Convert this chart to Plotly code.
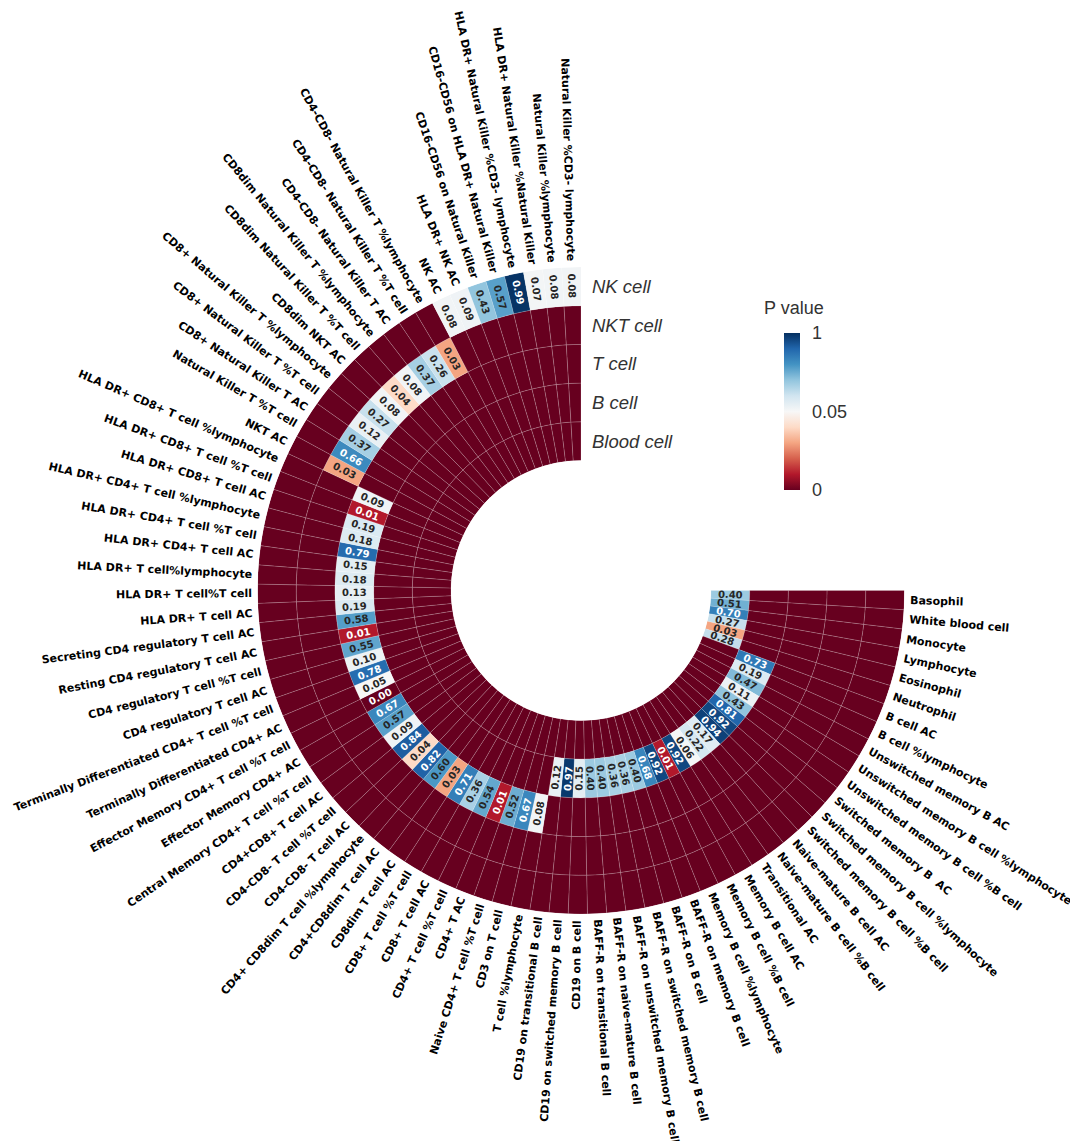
import math
import plotly.graph_objects as go

# ---------------- data ----------------
# rings from inner to outer
groups = ["Blood cell", "B cell", "T cell", "NKT cell", "NK cell"]

blood_features = ["Basophil", "White blood cell", "Monocyte", "Lymphocyte", "Eosinophil", "Neutrophil"]
blood_p = [0.40, 0.51, 0.70, 0.27, 0.03, 0.28]

b_features = [
    "B cell AC", "B cell %lymphocyte", "Unswitched memory B AC",
    "Unswitched memory B cell %lymphocyte", "Unswitched memory B cell %B cell",
    "Switched memory B  AC", "Switched memory B cell %lymphocyte", "Switched memory B cell %B cell",
    "Naive-mature B cell AC", "Naive-mature B cell %B cell", "Transitional AC",
    "Memory B cell AC", "Memory B cell %B cell", "Memory B cell %lymphocyte",
    "BAFF-R on memory B cell", "BAFF-R on B cell", "BAFF-R on switched memory B cell",
    "BAFF-R on unswitched memory B cell", "BAFF-R on naive-mature B cell",
    "BAFF-R on transitional B cell", "CD19 on B cell", "CD19 on switched memory B cell",
    "CD19 on transitional B cell",
]
b_p = [0.73, 0.19, 0.47, 0.11, 0.43, 0.81, 0.92, 0.94, 0.17, 0.22, 0.06, 0.92,
       0.01, 0.92, 0.68, 0.40, 0.36, 0.36, 0.40, 0.40, 0.15, 0.97, 0.12]

t_features = [
    "T cell %lymphocyte", "CD3 on T cell", "Naive CD4+ T cell %T cell", "CD4+ T AC",
    "CD4+ T cell %T cell", "CD8+ T cell AC", "CD8+ T cell %T cell", "CD8dim T cell AC",
    "CD4+CD8dim T cell AC", "CD4+ CD8dim T cell %lymphocyte", "CD4-CD8- T cell AC",
    "CD4-CD8- T cell %T cell", "CD4+CD8+ T cell AC", "Central Memory CD4+ T cell %T cell",
    "Effector Memory CD4+ AC", "Effector Memory CD4+ T cell %T cell",
    "Terminally Differentiated CD4+ AC", "Terminally Differentiated CD4+ T cell %T cell",
    "CD4 regulatory T cell AC", "CD4 regulatory T cell %T cell",
    "Resting CD4 regulatory T cell AC", "Secreting CD4 regulatory T cell AC",
    "HLA DR+ T cell AC", "HLA DR+ T cell%T cell", "HLA DR+ T cell%lymphocyte",
    "HLA DR+ CD4+ T cell AC", "HLA DR+ CD4+ T cell %T cell", "HLA DR+ CD4+ T cell %lymphocyte",
    "HLA DR+ CD8+ T cell AC", "HLA DR+ CD8+ T cell %T cell", "HLA DR+ CD8+ T cell %lymphocyte",
]
t_p = [0.08, 0.67, 0.52, 0.01, 0.54, 0.36, 0.71, 0.03, 0.60, 0.82, 0.04, 0.84, 0.09,
       0.57, 0.67, 0.00, 0.05, 0.78, 0.10, 0.55, 0.01, 0.58, 0.19, 0.13, 0.18, 0.15,
       0.79, 0.18, 0.19, 0.01, 0.09]

nkt_features = [
    "NKT AC", "Natural Killer T %T cell", "CD8+ Natural Killer T AC",
    "CD8+ Natural Killer T %T cell", "CD8+ Natural Killer T %lymphocyte", "CD8dim NKT AC",
    "CD8dim Natural Killer T %T cell", "CD8dim Natural Killer T %lymphocyte",
    "CD4-CD8- Natural Killer T AC", "CD4-CD8- Natural Killer T %T cell",
    "CD4-CD8- Natural Killer T %lymphocyte",
]
nkt_p = [0.03, 0.66, 0.37, 0.12, 0.27, 0.08, 0.04, 0.08, 0.37, 0.26, 0.03]

nk_features = [
    "NK AC", "HLA DR+ NK AC", "CD16-CD56 on Natural Killer",
    "CD16-CD56 on HLA DR+ Natural Killer", "HLA DR+ Natural Killer %CD3- lymphocyte",
    "HLA DR+ Natural Killer %Natural Killer", "Natural Killer %lymphocyte",
    "Natural Killer %CD3- lymphocyte",
]
nk_p = [0.08, 0.09, 0.43, 0.57, 0.99, 0.07, 0.08, 0.08]

group_features = [blood_features, b_features, t_features, nkt_features, nk_features]
group_p = [blood_p, b_p, t_p, nkt_p, nk_p]
fill_value = 0.0  # rings not belonging to a feature's cell type

cbar_tickvals = [0.0, 0.05, 1.0]
cbar_ticktext = ["0", "0.05", "1"]
cbar_title = "P value"

# ---------------- layout constants ----------------
W, H = 1070, 1141
CX, CY = 581.0, 590.5
R_OUT, R_IN = 323.5, 130.0
SPAN = 270.0
LABEL_PAD = 6.0

RdBu = [(103, 0, 31), (178, 24, 43), (214, 96, 77), (244, 165, 130), (253, 219, 199),
        (247, 247, 247), (209, 229, 240), (146, 197, 222), (67, 147, 195), (33, 102, 172),
        (5, 48, 97)]
colorscale = [[i / 10, "rgb(%d,%d,%d)" % c] for i, c in enumerate(RdBu)]


def norm(v):
    # two-slope normalisation: 0 -> 0, 0.05 -> 0.5, 1 -> 1
    if v < 0.05:
        return 0.5 * v / 0.05
    return 0.5 + 0.5 * (v - 0.05) / 0.95


features, feat_group, feat_p = [], [], []
for g, (fs, ps) in enumerate(zip(group_features, group_p)):
    for f, p in zip(fs, ps):
        features.append(f)
        feat_group.append(g)
        feat_p.append(p)

N = len(features)
NG = len(groups)
step = SPAN / N
centers = [(i + 0.5) * step for i in range(N)]

theta_all, base_all, color_all = [], [], []
for i in range(N):
    for k in range(NG):
        v = feat_p[i] if k == feat_group[i] else fill_value
        theta_all.append(centers[i])
        base_all.append(k)
        color_all.append(norm(v))

CB_TOP, CB_BOT = 333, 490

fig = go.Figure()
fig.add_trace(go.Barpolar(
    r=[1] * len(theta_all), base=base_all, theta=theta_all, width=[step] * len(theta_all),
    marker=dict(
        color=color_all, colorscale=colorscale, cmin=0, cmax=1,
        line=dict(color="rgba(255,255,255,0.28)", width=0.6),
        showscale=True,
        colorbar=dict(
            tickvals=[norm(v) for v in cbar_tickvals], ticktext=cbar_ticktext,
            tickfont=dict(size=18, color="#333", family="Liberation Sans"),
            ticks="outside", ticklen=9, tickcolor="rgba(0,0,0,0)",
            x=784 / W, xanchor="left", y=1 - CB_BOT / H, yanchor="bottom",
            lenmode="pixels", len=CB_BOT - CB_TOP, thickness=16, outlinewidth=0, ypad=0, xpad=0,
        ),
    ),
    hoverinfo="skip",
))


def to_paper(theta_deg, r_px):
    a = math.radians(theta_deg)
    x = CX + r_px * math.cos(a)
    y = CY + r_px * math.sin(a)
    return x / W, 1 - y / H


def angle_for(theta_deg):
    compass = theta_deg + 90
    outward = compass <= 180
    ang = theta_deg if outward else theta_deg - 180
    return ang, outward


ring_w = (R_OUT - R_IN) / NG
annotations = []
for i in range(N):
    th = centers[i]
    ang, outward = angle_for(th)
    # value text
    g = feat_group[i]
    r = R_IN + (g + 0.5) * ring_w
    x, y = to_paper(th, r)
    t = norm(feat_p[i])
    col = "white" if abs(t - 0.5) > 0.3 else "#262626"
    annotations.append(dict(
        x=x, y=y, xref="paper", yref="paper", showarrow=False,
        text="<b>%.2f</b>" % feat_p[i], textangle=ang,
        font=dict(size=10, color=col, family="DejaVu Sans"),
        xanchor="center", yanchor="middle",
    ))
    # outer label
    lab = features[i]
    ghost = "<span style='color:rgba(0,0,0,0)'>%s</span>" % lab
    txt = "<b>" + (ghost + lab if outward else lab + ghost) + "</b>"
    x, y = to_paper(th, R_OUT + LABEL_PAD)
    annotations.append(dict(
        x=x, y=y, xref="paper", yref="paper", showarrow=False,
        text=txt, textangle=ang,
        font=dict(size=11, color="black", family="DejaVu Sans"),
        xanchor="center", yanchor="middle",
    ))

for g, name in enumerate(groups):
    r = R_IN + (g + 0.5) * ring_w
    annotations.append(dict(
        x=(CX + 9) / W, y=1 - (CY - r) / H, xref="paper", yref="paper", showarrow=False,
        text="<i>%s</i>" % name, xanchor="left", yanchor="middle",
        font=dict(size=18.5, color="#333", family="Liberation Sans"),
    ))

annotations.append(dict(
    x=794 / W, y=1 - 308 / H, xref="paper", yref="paper", showarrow=False,
    text=cbar_title, xanchor="center", yanchor="middle",
    font=dict(size=18, color="#333", family="Liberation Sans"),
))

fig.update_layout(
    width=W, height=H, margin=dict(l=0, r=0, t=0, b=0),
    paper_bgcolor="white", plot_bgcolor="white", showlegend=False,
    polar=dict(
        domain=dict(x=[(CX - R_OUT) / W, (CX + R_OUT) / W],
                    y=[1 - (CY + R_OUT) / H, 1 - (CY - R_OUT) / H]),
        hole=R_IN / R_OUT, bgcolor="white", bargap=0,
        radialaxis=dict(range=[0, NG], visible=False, showgrid=False),
        angularaxis=dict(direction="clockwise", rotation=0, visible=False, showgrid=False),
    ),
    annotations=annotations,
)

fig.write_html("out.html")
